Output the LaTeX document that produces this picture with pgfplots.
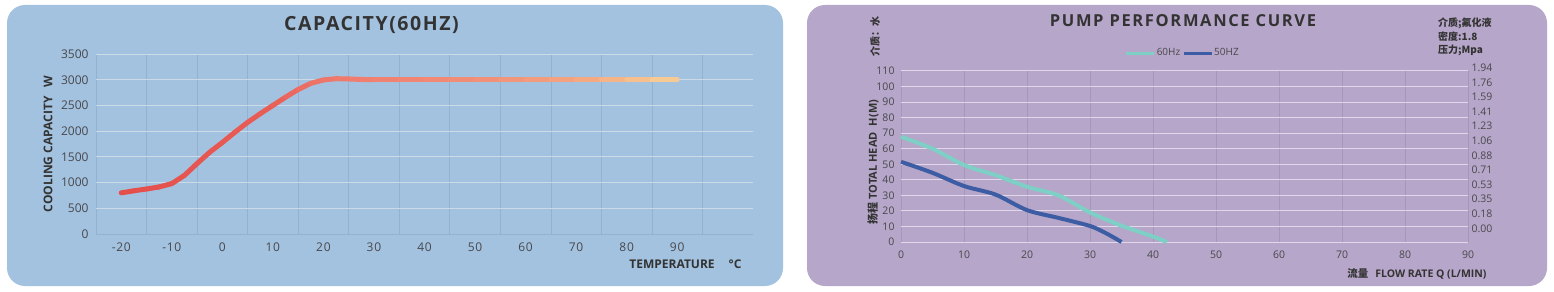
\documentclass[border=0pt]{standalone}
\usepackage{fontspec}
\usepackage{pgfplots}
\pgfplotsset{compat=1.18}
\setmainfont{Open Sans}
\newfontfamily\cjk{Noto Sans CJK SC}

\definecolor{panelA}{RGB}{163,194,223}
\definecolor{panelB}{RGB}{182,166,201}
\definecolor{gridAh}{RGB}{204,218,232}
\definecolor{gridAv}{RGB}{148,178,207}
\definecolor{gridBh}{RGB}{224,216,234}
\definecolor{gridBv}{RGB}{166,150,186}
\definecolor{txtdark}{RGB}{51,51,51}
\definecolor{txtmid}{RGB}{72,72,76}
\definecolor{hz60}{RGB}{126,207,198}
\definecolor{hz50}{RGB}{60,93,163}

\pgfplotsset{
  /pgf/number format/assume math mode=true,
  /pgf/number format/1000 sep={},
  capmap/.style={colormap={capmap}{
    rgb255(0)=(228,78,76)
    rgb255(30)=(233,94,88)
    rgb255(40)=(238,118,106)
    rgb255(50)=(240,128,112)
    rgb255(70)=(241,142,120)
    rgb255(90)=(244,164,128)
    rgb255(100)=(246,186,138)
    rgb255(110)=(249,208,150)}},
}

\begin{document}
\begin{tikzpicture}[x=1bp,y=1bp]
\path[use as bounding box] (0,0) rectangle (1554,291);

% panels
\fill[panelA, rounded corners=18bp] (7,5) rectangle (783,286);
\fill[panelB, rounded corners=18bp] (807,5) rectangle (1547,286);

% ---------------- cooling capacity ----------------
\node[font=\fontsize{19.5bp}{22bp}\selectfont\bfseries\addfontfeatures{LetterSpace=8}, text=txtdark]
  at (371.5,266) {CAPACITY(60HZ)};

\begin{axis}[
  at={(96bp,57bp)}, anchor=south west,
  scale only axis, width=657bp, height=180bp,
  xmin=-25, xmax=105, ymin=0, ymax=3500,
  xtick={-20,-10,...,90},
  minor xtick={-25,-15,...,95},
  ytick={0,500,...,3500},
  major tick length=0, minor tick length=0,
  axis x line*=bottom, axis y line*=left,
  x axis line style={gridAv, line width=0.8bp},
  y axis line style={draw=none},
  ymajorgrids, xminorgrids,
  major grid style={gridAh, line width=1bp},
  minor grid style={gridAv, line width=0.7bp},
  tick label style={font=\fontsize{12bp}{14bp}\selectfont, text=txtmid},
  xticklabel style={font=\fontsize{12bp}{14bp}\selectfont\addfontfeatures{LetterSpace=6}, yshift=-5bp},
  yticklabel style={xshift=-4bp},
  ylabel={COOLING CAPACITY\hspace{9bp}W},
  ylabel style={font=\fontsize{12bp}{14bp}\selectfont\bfseries, text=txtdark, at={(-48bp,90bp)}, anchor=center, rotate=0},
  capmap,
  clip=false,
]
% temperature sweep, coloured along the temperature axis
\addplot[mesh, point meta=x, point meta min=-20, point meta max=90,
  line width=5bp, line cap=round, line join=round] coordinates {
  (-20,800) (-17.5,840) (-15,875) (-12.5,915) (-10,980) (-7.5,1140)
  (-5,1370) (-2.5,1590) (0,1780) (2.5,1980) (5,2170) (7.5,2340)
  (10,2500) (12.5,2660) (15,2810) (17.5,2930) (20,2995) (22.5,3020)
  (25,3015) (27.5,3005) (30,3000) (35,3000) (40,3000) (45,3000)
  (50,3000) (55,3000) (60,3000) (65,3000) (70,3000) (75,3000)
  (80,3000) (85,3000) (90,3000)
};
\end{axis}
\node[font=\fontsize{12bp}{14bp}\selectfont\bfseries, text=txtdark, anchor=east]
  at (745,27) {TEMPERATURE\hspace{14bp}°C};

% ---------------- pump performance ----------------
\node[font=\fontsize{16.5bp}{19bp}\selectfont\bfseries\addfontfeatures{LetterSpace=10}, text=txtdark]
  at (1183,270) {PUMP PERFORMANCE CURVE};

\begin{axis}[
  at={(901bp,49bp)}, anchor=south west,
  scale only axis, width=567bp, height=171bp,
  xmin=0, xmax=90, ymin=0, ymax=110,
  xtick={0,10,...,90}, ytick={0,10,...,110},
  major tick length=0,
  axis x line*=bottom, axis y line*=left,
  axis line style={draw=none},
  xmajorgrids, ymajorgrids,
  x grid style={gridBv, line width=0.7bp},
  y grid style={gridBh, line width=1bp},
  tick label style={font=\fontsize{10.5bp}{12bp}\selectfont, text=txtmid},
  xticklabel style={yshift=-5bp},
  yticklabel style={xshift=-3bp},
  legend columns=2,
  legend cell align=left,
  legend style={at={(0.496,1.105)}, anchor=center, draw=none, fill=none,
    font=\fontsize{10bp}{12bp}\selectfont, text=txtmid, inner sep=0pt,
    /tikz/every even column/.append style={column sep=1bp},
    nodes={inner sep=1bp}},
  legend image code/.code={\draw[#1, line width=3bp] (0bp,0bp) -- (28bp,0bp);},
  clip=false,
]
\addplot[hz60, line width=4bp, smooth, tension=0.5] coordinates {
  (0,67.7) (5,60) (10,49.5) (15,43) (20,35.5) (25,30) (30,19)
  (35,10.5) (40,3.5) (42.2,0)
};
\addlegendentry{60Hz}
\addplot[hz50, line width=4bp, smooth, tension=0.5] coordinates {
  (0,51.6) (5,44.5) (10,36) (15,30.5) (20,20.5) (25,15.5) (30,10.3)
  (32.6,5.5) (35,0)
};
\addlegendentry{50HZ}
\end{axis}

% pressure scale on the right
\begin{axis}[
  at={(901bp,49bp)}, anchor=south west,
  scale only axis, width=567bp, height=174.3bp,
  xmin=0, xmax=90, ymin=-0.1655, ymax=1.94,
  axis x line=none, axis y line*=right,
  y axis line style={draw=none},
  major tick length=0,
  ytick={0,0.17636,0.35273,0.52909,0.70545,0.88182,1.05818,1.23455,1.41091,1.58727,1.76364,1.94},
  yticklabels={0.00,0.18,0.35,0.53,0.71,0.88,1.06,1.23,1.41,1.59,1.76,1.94},
  tick label style={font=\fontsize{10.5bp}{12bp}\selectfont, text=txtmid},
]
\end{axis}

\node[font=\fontsize{11bp}{13bp}\selectfont\bfseries, text=txtdark, rotate=90]
  at (873,129) {{\cjk\bfseries 扬程} TOTAL HEAD\hspace{6bp}H(M)};
\node[font=\fontsize{10bp}{12bp}\selectfont\bfseries, text=txtdark, rotate=90]
  at (875,255) {\cjk\bfseries 介质：水};
\node[font=\fontsize{10.5bp}{12bp}\selectfont\bfseries, text=txtdark, anchor=east]
  at (1490,17) {{\cjk\bfseries 流量}\hspace{7bp}FLOW RATE Q (L/MIN)};
\node[font=\fontsize{10bp}{13.5bp}\selectfont\bfseries, text=txtdark, anchor=north west, align=left, inner sep=0pt]
  at (1438,273) {\cjk\bfseries 介质;氟化液\\\cjk\bfseries 密度:1.8\\\cjk\bfseries 压力;Mpa};
\end{tikzpicture}
\end{document}
